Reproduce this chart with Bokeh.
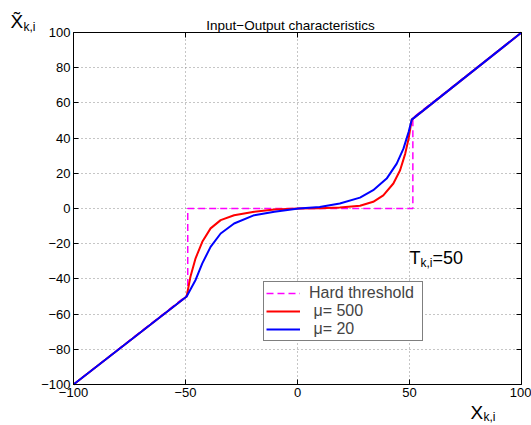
from bokeh.plotting import figure
from bokeh.models import (Range1d, FixedTicker, LinearAxis, Label, Legend, LegendItem,
                          Grid, BoxAnnotation)
from bokeh.embed import file_html
from bokeh.resources import INLINE

# ---- data ----
x_ticks = [-100, -50, 0, 50, 100]
x_tick_labels = ["\u2212100", "\u221250", "0", "50", "100"]
y_ticks = [-100, -80, -60, -40, -20, 0, 20, 40, 60, 80, 100]
y_tick_labels = ["\u2212100", "\u221280", "\u221260", "\u221240", "\u221220", "0",
                 "20", "40", "60", "80", "100"]

hard_x = [-100, -49, -49, 51.5, 51.5, 100]
hard_y = [-100, -49, 0, 0, 51.5, 100]

red_x = [-100, -49.5, -47.8, -45.5, -42.5, -38.8, -34.3, -28.3, -19.3, -10.3, 0.5,
         9.9, 18.9, 27.9, 33.8, 38.3, 42.8, 45.8, 48.1, 49.6, 51.0, 100]
red_y = [-100, -50.0, -38.8, -28.3, -18.9, -11.3, -6.6, -3.8, -1.9, -0.6, 0.0,
         0.2, 0.6, 1.6, 3.8, 7.5, 14.2, 21.7, 31.2, 39.7, 50.5, 100]

blue_x = [-100, -49.5, -45.5, -42.5, -38.8, -34.3, -28.3, -19.3, -10.3, 0.5,
          9.9, 18.9, 27.9, 33.8, 39.8, 44.3, 47.3, 49.6, 51.0, 100]
blue_y = [-100, -50.0, -40.6, -31.2, -21.8, -14.2, -8.5, -3.8, -1.9, 0.0,
          0.9, 2.8, 6.2, 10.4, 17.0, 25.5, 34.0, 43.4, 50.5, 100]

legend_labels = ["Hard threshold", "\u00a0\u03bc= 500", "\u00a0\u03bc= 20"]
title_text = "Input\u2212Output characteristics"

FONT = "Liberation Sans"

# ---- layout (pixels on the canvas) ----
W, H = 531, 425
BOX_L, BOX_R, BOX_T, BOX_B = 73, 521, 32, 384
XMIN, XMAX, YMIN, YMAX = -100, 100, -100, 100
sx = (BOX_R - BOX_L) / (XMAX - XMIN)
sy = (BOX_B - BOX_T) / (YMAX - YMIN)
x_range = Range1d(XMIN - BOX_L / sx, XMAX + (W - BOX_R) / sx)
y_range = Range1d(YMIN - (H - BOX_B) / sy, YMAX + BOX_T / sy)

p = figure(width=W, height=H, x_range=x_range, y_range=y_range,
           output_backend="svg", toolbar_location=None,
           x_axis_location=None, y_axis_location=None,
           min_border=0, background_fill_color="white", border_fill_color="white")
p.outline_line_color = None
p.grid.visible = False


def make_axis(ticks, labels, loc, show_labels):
    ax = LinearAxis(ticker=FixedTicker(ticks=ticks), fixed_location=loc,
                    bounds=(ticks[0], ticks[-1]),
                    major_tick_in=5, major_tick_out=0,
                    minor_tick_line_color=None, axis_line_color="black",
                    major_tick_line_color="black", axis_line_width=1)
    if show_labels:
        ax.major_label_overrides = dict(zip(ticks, labels))
        ax.major_label_text_font = FONT
        ax.major_label_text_font_size = "13px"
        ax.major_label_text_color = "black"
        ax.major_label_standoff = 3
    else:
        ax.major_label_text_color = None
        ax.major_label_standoff = 0
    return ax


p.add_layout(make_axis(x_ticks, x_tick_labels, YMIN, True), "below")
p.add_layout(make_axis(y_ticks, y_tick_labels, XMIN, True), "left")
p.add_layout(make_axis(x_ticks, x_tick_labels, YMAX, False), "above")
p.add_layout(make_axis(y_ticks, y_tick_labels, XMAX, False), "right")

need_mask = False
for dim, ticks, cross in ((0, x_ticks, (YMIN, YMAX)), (1, y_ticks, (XMIN, XMAX))):
    g = Grid(dimension=dim, ticker=FixedTicker(ticks=ticks), bounds=(ticks[0], ticks[-1]),
             grid_line_color="#8c8c8c", grid_line_dash="1 3", grid_line_width=1)
    try:
        g.cross_bounds = cross
    except Exception:
        need_mask = True
    p.add_layout(g)

if need_mask:
    for kw in (dict(right=XMIN), dict(left=XMAX), dict(bottom=YMAX), dict(top=YMIN)):
        p.add_layout(BoxAnnotation(fill_color="white", fill_alpha=1.0, line_color=None,
                                   level="underlay", **kw))

r_hard = p.line(hard_x, hard_y, line_color="#ff00ff", line_width=1.5, line_dash="7 4")
r_red = p.line(red_x, red_y, line_color="#ff0000", line_width=2)
r_blue = p.line(blue_x, blue_y, line_color="#0000ff", line_width=2)

legend = Legend(items=[LegendItem(label=legend_labels[0], renderers=[r_hard]),
                       LegendItem(label=legend_labels[1], renderers=[r_red]),
                       LegendItem(label=legend_labels[2], renderers=[r_blue])],
                location=(263, H - 341), border_line_color="black", border_line_width=1,
                background_fill_color="white", background_fill_alpha=1.0,
                label_text_font=FONT, label_text_font_size="16px",
                glyph_width=34, glyph_height=14, label_height=14,
                label_standoff=9, label_width=111, padding=2, spacing=0, margin=0)
p.add_layout(legend, "center")


def lab(px, py, text, size, align="left"):
    # px, py: canvas pixels from the top-left corner (baseline position)
    p.add_layout(Label(x=px, y=H - py, x_units="screen", y_units="screen", text=text,
                       text_font=FONT, text_font_size=size, text_color="black",
                       text_align=align, text_baseline="alphabetic"))


lab(290, 25, title_text, "13.5px", "center")
lab(10, 21, "X\u0303", "19px")
lab(23, 26, "k,i", "12px")
lab(470, 412, "X", "19px")
lab(483, 416, "k,i", "12px")
lab(409, 257, "T", "18px")
lab(420, 262, "k,i", "12px")
lab(432, 257, "=50", "18px")

open("out.html", "w").write(file_html(p, INLINE))
